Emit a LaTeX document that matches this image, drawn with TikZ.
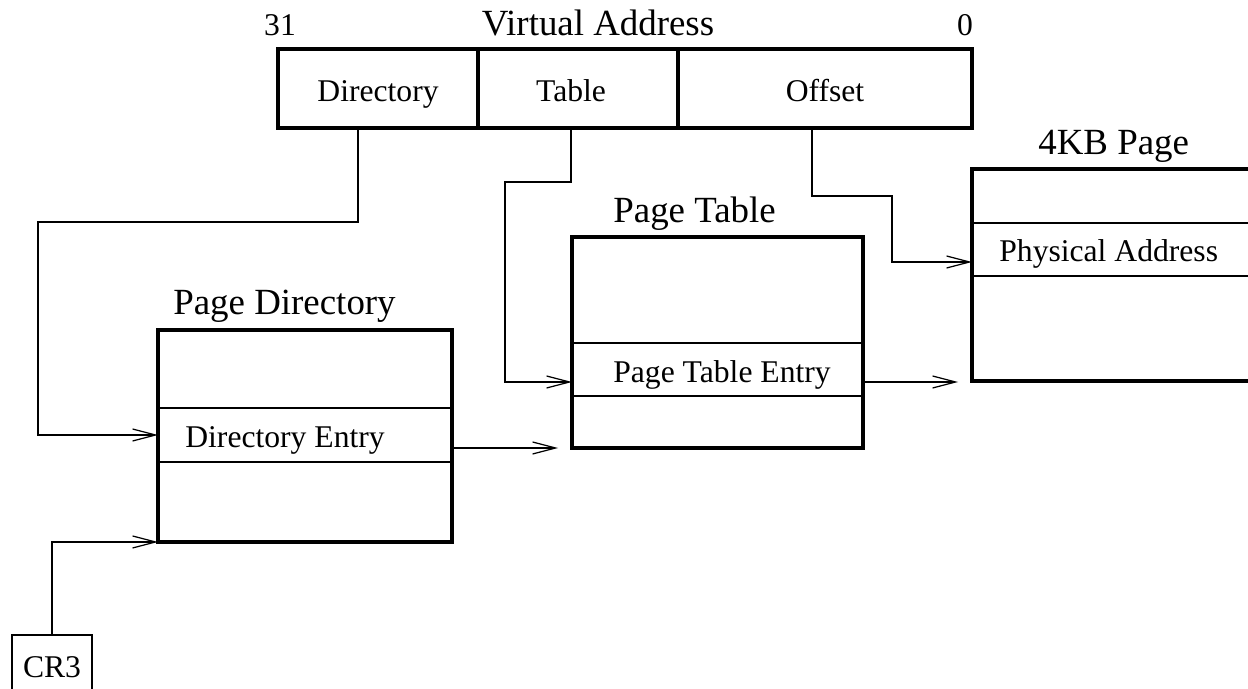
\documentclass[tikz,border=0pt]{standalone}
\usepackage{fontspec}
\setmainfont{Liberation Serif}
\usetikzlibrary{arrows.meta}

\tikzset{
  box/.style={draw, line width=1.9pt, inner sep=0pt, outer sep=0pt},
  row/.style={draw, line width=0.7pt, inner sep=0pt, outer sep=0pt},
  lbl/.style={inner sep=0pt, font=\fontsize{18}{20}\selectfont},
  ttl/.style={inner sep=0pt, font=\fontsize{21}{24}\selectfont},
  ptr/.style={line width=0.7pt, -{Straight Barb[length=0.46cm, width=0.24cm]}},
}

\begin{document}
\begin{tikzpicture}[x=0.02cm, y=-0.02cm]
  \useasboundingbox (0,0) rectangle (1248,689);

  % virtual address
  \node[box, minimum width=4cm, minimum height=1.58cm] (vdir) at (378,88.5) {};
  \node[box, minimum width=4cm, minimum height=1.58cm] (vtab) at (578,88.5) {};
  \node[box, minimum width=5.88cm, minimum height=1.58cm] (voff) at (825,88.5) {};
  \node[lbl, anchor=base] (tdir) at (378,102) {Directory};
  \node[lbl, anchor=base] (ttab) at (571,102) {Table};
  \node[lbl, anchor=base] (toff) at (825,102) {Offset};
  \node[lbl, anchor=base] (t31) at (280,36) {31};
  \node[ttl, anchor=base] (tva) at (598,36) {Virtual Address};
  \node[lbl, anchor=base] (t0) at (965,36) {0};

  % page directory
  \node[row, minimum width=5.88cm, minimum height=1.08cm] (pde) at (305,435) {};
  \node[box, minimum width=5.88cm, minimum height=4.24cm] (pd) at (305,436) {};
  \node[ttl, anchor=base west] (tpd) at (173,315) {Page Directory};
  \node[lbl, anchor=base west] (tde) at (185,447) {Directory Entry};

  % page table
  \node[row, minimum width=5.82cm, minimum height=1.06cm] (pte) at (717.5,369.5) {};
  \node[box, minimum width=5.82cm, minimum height=4.22cm] (pt) at (717.5,342.5) {};
  \node[ttl, anchor=base west] (tpt) at (613,223) {Page Table};
  \node[lbl, anchor=base west] (tpte) at (613,382) {Page Table Entry};

  % 4KB page
  \node[row, minimum width=6cm, minimum height=1.06cm] (pa) at (1122,249.5) {};
  \node[box, minimum width=6cm, minimum height=4.24cm] (pg) at (1122,275) {};
  \node[ttl, anchor=base west] (tpg) at (1038,155) {4KB Page};
  \node[lbl, anchor=base west] (tpa) at (999,262) {Physical Address};

  % CR3
  \node[row, lbl, minimum width=1.6cm, minimum height=1.28cm] (cr3) at (52,667) {CR3};

  % bends
  \coordinate (dirturn) at (38,222);
  \coordinate (tabturn) at (505,182);
  \coordinate (offturn) at (892,196);
  \coordinate (deout) at ([yshift=-0.26cm]pde.east);
  \coordinate (pteout) at ([yshift=-0.25cm]pte.east);

  \draw[ptr] ([xshift=-0.4cm]vdir.south) |- (dirturn) |- (pde.west);
  \draw[ptr] ([xshift=-0.14cm]vtab.south) |- (tabturn) |- ([yshift=-0.25cm]pte.west);
  \draw[ptr] ([xshift=-0.26cm]voff.south) |- (offturn) |- ([yshift=-0.25cm]pa.west);
  \draw[ptr, shorten >=0.28cm] (deout) -- (deout -| pt.west);
  \draw[ptr, shorten >=0.28cm] (pteout) -- (pteout -| pg.west);
  \draw[ptr] (cr3.north) |- (pd.south west);
\end{tikzpicture}
\end{document}
